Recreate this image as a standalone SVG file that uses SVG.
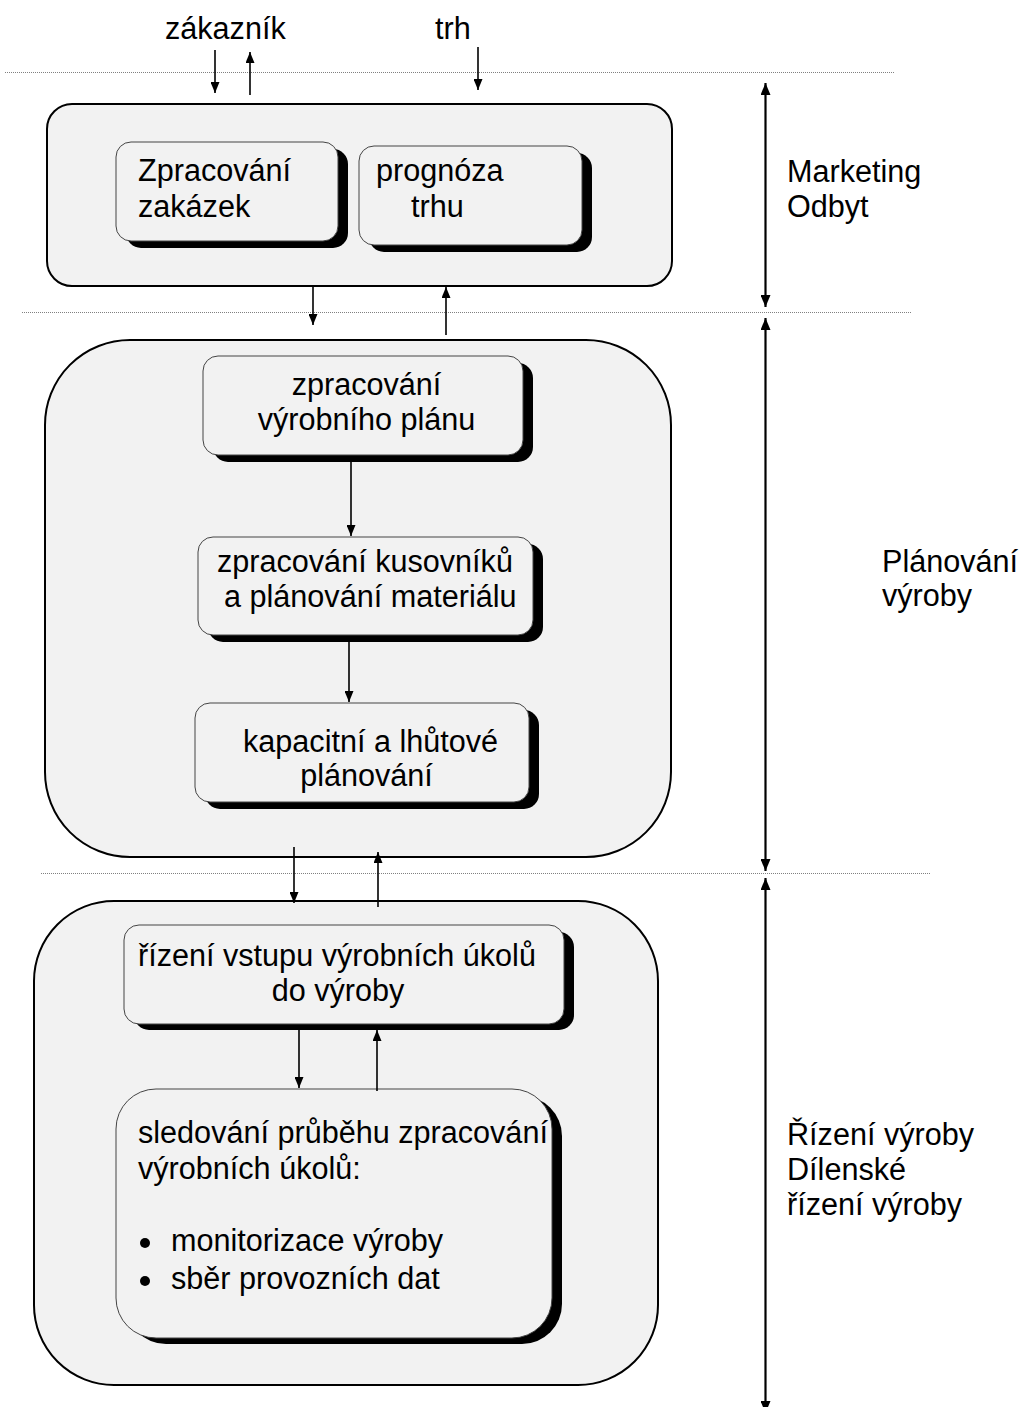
<svg xmlns="http://www.w3.org/2000/svg" width="1022" height="1407" viewBox="0 0 1022 1407">
  <defs>
    <style>
      text { font-family: "Liberation Sans", Arial, sans-serif; font-size: 30.6px; fill: #000; }
      .panel { fill: #f2f2f2; stroke: #000; stroke-width: 2; }
      .card { fill: #f2f2f2; stroke: #444; stroke-width: 1; }
      .shadow { fill: #000; }
      .sep { stroke: #808080; stroke-width: 1; stroke-dasharray: 1 1; fill: none; }
      .flow { stroke: #000; stroke-width: 1.6; fill: none; marker-end: url(#tip); }
      .span { stroke: #000; stroke-width: 2.2; fill: none; marker-start: url(#bigtip); marker-end: url(#bigtip); }
      .bullet { fill: #000; }
    </style>
    <marker id="tip" markerUnits="userSpaceOnUse" viewBox="0 0 11 9" markerWidth="11" markerHeight="9" refX="11" refY="4.5" orient="auto">
      <path d="M0,0 L11,4.5 L0,9 Z" fill="#000"/>
    </marker>
    <marker id="bigtip" markerUnits="userSpaceOnUse" viewBox="0 0 12 10" markerWidth="12" markerHeight="10" refX="12" refY="5" orient="auto-start-reverse">
      <path d="M0,0 L12,5 L0,10 Z" fill="#000"/>
    </marker>
  </defs>

  <rect width="1022" height="1407" fill="#fff"/>

  <!-- layer separators -->
  <g id="separators">
    <line class="sep" x1="5" y1="72.5" x2="895" y2="72.5"/>
    <line class="sep" x1="22" y1="312.5" x2="912" y2="312.5"/>
    <line class="sep" x1="41" y1="873.5" x2="930" y2="873.5"/>
  </g>

  <!-- external inputs -->
  <g id="zakaznik"><text x="165" y="39">zákazník</text></g>
  <g id="trh"><text x="435" y="39">trh</text></g>

  <!-- Marketing / Odbyt -->
  <g id="marketing">
    <rect class="panel" x="47" y="104" width="625" height="182" rx="25"/>
  </g>
  <g id="zpracovani-zakazek">
    <rect class="shadow" x="126" y="149" width="222" height="99" rx="15"/>
    <rect class="card" x="116" y="142" width="222" height="99" rx="15"/>
    <text x="138" y="181">Zpracování</text>
    <text x="138" y="217">zakázek</text>
  </g>
  <g id="prognoza-trhu">
    <rect class="shadow" x="369" y="153" width="223" height="99" rx="15"/>
    <rect class="card" x="359" y="146" width="223" height="99" rx="15"/>
    <text x="376" y="181">prognóza</text>
    <text x="411" y="217">trhu</text>
  </g>

  <!-- Plánování výroby -->
  <g id="planovani">
    <rect class="panel" x="45" y="340" width="626" height="517" rx="85"/>
  </g>
  <g id="vyrobni-plan">
    <rect class="shadow" x="213" y="363" width="320" height="99" rx="15"/>
    <rect class="card" x="203" y="356" width="320" height="99" rx="15"/>
    <text x="366.5" y="395" text-anchor="middle">zpracování</text>
    <text x="366.5" y="430" text-anchor="middle">výrobního plánu</text>
  </g>
  <g id="kusovniky">
    <rect class="shadow" x="208" y="544" width="335" height="98" rx="15"/>
    <rect class="card" x="198" y="537" width="335" height="98" rx="15"/>
    <text x="217" y="572">zpracování kusovníků</text>
    <text x="224" y="607">a plánování materiálu</text>
  </g>
  <g id="kapacitni">
    <rect class="shadow" x="205" y="710" width="334" height="99" rx="15"/>
    <rect class="card" x="195" y="703" width="334" height="99" rx="15"/>
    <text x="243" y="752">kapacitní a lhůtové</text>
    <text x="366.5" y="786" text-anchor="middle">plánování</text>
  </g>

  <!-- Řízení výroby -->
  <g id="rizeni">
    <rect class="panel" x="34" y="901" width="624" height="484" rx="80"/>
  </g>
  <g id="vstup-ukolu">
    <rect class="shadow" x="134" y="932" width="440" height="98" rx="15"/>
    <rect class="card" x="124" y="925" width="440" height="99" rx="15"/>
    <text x="138" y="966">řízení vstupu výrobních úkolů</text>
    <text x="338" y="1001" text-anchor="middle">do výroby</text>
  </g>
  <g id="sledovani">
    <rect class="shadow" x="126" y="1096" width="436" height="248" rx="40"/>
    <rect class="card" x="116" y="1089" width="436" height="249" rx="40"/>
    <text x="138" y="1143">sledování průběhu zpracování</text>
    <text x="138" y="1179">výrobních úkolů:</text>
    <circle class="bullet" cx="145" cy="1243" r="5"/>
    <text x="171" y="1251">monitorizace výroby</text>
    <circle class="bullet" cx="145" cy="1281" r="5"/>
    <text x="171" y="1289">sběr provozních dat</text>
  </g>

  <!-- layer labels -->
  <g id="label-marketing">
    <text x="787" y="182">Marketing</text>
    <text x="787" y="217">Odbyt</text>
  </g>
  <g id="label-planovani">
    <text x="882" y="572">Plánování</text>
    <text x="882" y="606">výroby</text>
  </g>
  <g id="label-rizeni">
    <text x="787" y="1145">Řízení výroby</text>
    <text x="787" y="1180">Dílenské</text>
    <text x="787" y="1215">řízení výroby</text>
  </g>

  <!-- connectors -->
  <g id="connectors">
    <line class="flow" x1="215" y1="50" x2="215" y2="93"/>
    <line class="flow" x1="250" y1="95" x2="250" y2="52"/>
    <line class="flow" x1="478" y1="47" x2="478" y2="90"/>
    <line class="flow" x1="313" y1="286" x2="313" y2="325"/>
    <line class="flow" x1="446" y1="335" x2="446" y2="287"/>
    <line class="flow" x1="351" y1="462" x2="351" y2="536"/>
    <line class="flow" x1="349" y1="642" x2="349" y2="702"/>
    <line class="flow" x1="294" y1="847" x2="294" y2="903"/>
    <line class="flow" x1="378" y1="907" x2="378" y2="852"/>
    <line class="flow" x1="299" y1="1030" x2="299" y2="1088"/>
    <line class="flow" x1="377" y1="1091" x2="377" y2="1030"/>
    <line class="span" x1="765.5" y1="83" x2="765.5" y2="307"/>
    <line class="span" x1="765.5" y1="318" x2="765.5" y2="871"/>
    <line class="span" x1="765.5" y1="878" x2="765.5" y2="1413"/>
  </g>
</svg>
